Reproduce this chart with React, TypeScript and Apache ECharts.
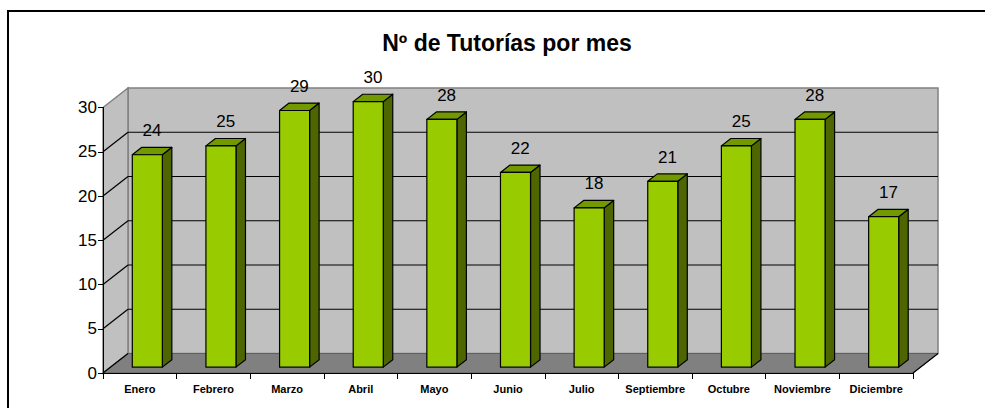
import React, { useEffect, useRef } from "react";
import * as echarts from "echarts";

const months = ["Enero", "Febrero", "Marzo", "Abril", "Mayo", "Junio", "Julio", "Septiembre", "Octubre", "Noviembre", "Diciembre"];
const tutorias = [24, 25, 29, 30, 28, 22, 18, 21, 25, 28, 17];
const yTicks = [0, 5, 10, 15, 20, 25, 30];
const titleText = "Nº de Tutorías por mes";

const DX = 25;
const DY = -19.5;
const FONT = "'Liberation Sans', Arial, sans-serif";

export default function App() {
  const ref = useRef<HTMLDivElement>(null);
  useEffect(() => {
    if (!ref.current) return;
    const chart = echarts.init(ref.current, undefined, { renderer: "svg" });
    const option: any = {
      animation: false,
      backgroundColor: "#fff",
      title: {
        text: titleText,
        left: 502,
        top: 26,
        textAlign: "center",
        textStyle: { fontFamily: FONT, fontSize: 23, fontWeight: "bold", color: "#000" },
      },
      graphic: [
        {
          type: "rect",
          shape: { x: 8, y: 11, width: 1100, height: 500 },
          style: { fill: "none", stroke: "#000", lineWidth: 2 },
          silent: true,
          z: 100,
        },
      ],
      grid: { left: 103, right: 72, top: 107.5, bottom: 35, containLabel: false },
      xAxis: {
        type: "category",
        data: months,
        z: 5,
        axisLine: { show: true, lineStyle: { color: "#000", width: 1 } },
        axisTick: { show: true, interval: 0, length: 6, lineStyle: { color: "#000" } },
        axisLabel: { interval: 0, margin: 10, fontFamily: FONT, fontSize: 11, fontWeight: "bold", color: "#000" },
        splitLine: { show: false },
      },
      yAxis: {
        type: "value",
        min: yTicks[0],
        max: yTicks[yTicks.length - 1],
        interval: 5,
        z: 5,
        axisLine: { show: true, lineStyle: { color: "#000", width: 1 } },
        axisTick: { show: true, length: 5, lineStyle: { color: "#000" } },
        axisLabel: { margin: 6, fontFamily: FONT, fontSize: 17, color: "#000" },
        splitLine: { show: false },
      },
      series: [
        {
          type: "custom",
          z: 1,
          silent: true,
          data: [[0, 0]],
          renderItem: (params: any, api: any) => {
            const cs = params.coordSys;
            const x0 = cs.x;
            const x1 = cs.x + cs.width;
            const yb = api.coord([0, yTicks[0]])[1];
            const yt = api.coord([0, yTicks[yTicks.length - 1]])[1];
            const children: any[] = [];
            children.push({
              type: "rect",
              shape: { x: x0 + DX, y: yt + DY, width: cs.width, height: yb - yt },
              style: { fill: "#C0C0C0", stroke: "#808080", lineWidth: 1.5 },
            });
            children.push({
              type: "polygon",
              shape: { points: [[x0, yb], [x0, yt], [x0 + DX, yt + DY], [x0 + DX, yb + DY]] },
              style: { fill: "#C0C0C0", stroke: "#808080", lineWidth: 1.5 },
            });
            children.push({
              type: "polygon",
              shape: { points: [[x0, yb], [x1, yb], [x1 + DX, yb + DY], [x0 + DX, yb + DY]] },
              style: { fill: "#808080", stroke: "#606060", lineWidth: 1 },
            });
            children.push({
              type: "line",
              shape: { x1: x1, y1: yb, x2: x1 + DX, y2: yb + DY },
              style: { stroke: "#000", lineWidth: 1.2 },
            });
            yTicks.forEach((v) => {
              const y = api.coord([0, v])[1];
              if (v !== yTicks[yTicks.length - 1] && v !== yTicks[0]) {
                children.push({
                  type: "line",
                  shape: { x1: x0 + DX, y1: y + DY, x2: x1 + DX, y2: y + DY },
                  style: { stroke: "#000", lineWidth: 1.2 },
                });
              }
              if (v !== yTicks[yTicks.length - 1]) {
                children.push({
                  type: "line",
                  shape: { x1: x0, y1: y, x2: x0 + DX, y2: y + DY },
                  style: { stroke: "#000", lineWidth: 1.2 },
                });
              }
            });
            return { type: "group", children };
          },
        },
        {
          type: "custom",
          z: 3,
          data: tutorias.map((v, i) => [i, v]),
          encode: { x: 0, y: 1 },
          renderItem: (params: any, api: any) => {
            const idx = api.value(0);
            const val = api.value(1);
            const top = api.coord([idx, val]);
            const base = api.coord([idx, 0]);
            const cw = api.size([1, 0])[0];
            const bw = cw * 0.408;
            const f0 = 0.3;
            const fd = 0.38;
            const x0 = top[0] - bw / 2 + DX * f0;
            const yT = top[1] + DY * f0;
            const yB = base[1] + DY * f0;
            const ddx = DX * fd;
            const ddy = DY * fd;
            const stroke = { stroke: "#000", lineWidth: 1.2, lineJoin: "round" };
            return {
              type: "group",
              children: [
                {
                  type: "polygon",
                  shape: { points: [[x0 + bw, yT], [x0 + bw + ddx, yT + ddy], [x0 + bw + ddx, yB + ddy], [x0 + bw, yB]] },
                  style: { fill: "#4D6600", ...stroke },
                },
                {
                  type: "polygon",
                  shape: { points: [[x0, yT], [x0 + bw, yT], [x0 + bw + ddx, yT + ddy], [x0 + ddx, yT + ddy]] },
                  style: { fill: "#739900", ...stroke },
                },
                {
                  type: "rect",
                  shape: { x: x0, y: yT, width: bw, height: yB - yT },
                  style: { fill: "#99CC00", ...stroke },
                },
                {
                  type: "text",
                  style: {
                    x: x0 + bw / 2 + ddx / 2,
                    y: yT - 24,
                    text: String(val),
                    fill: "#000",
                    font: `17px ${FONT}`,
                    textAlign: "center",
                    textVerticalAlign: "middle",
                  },
                },
              ],
            };
          },
        },
      ],
    };
    chart.setOption(option);
    return () => chart.dispose();
  }, []);
  return <div ref={ref} style={{ position: "fixed", left: 0, top: 0, width: 985, height: 408 }} />;
}
